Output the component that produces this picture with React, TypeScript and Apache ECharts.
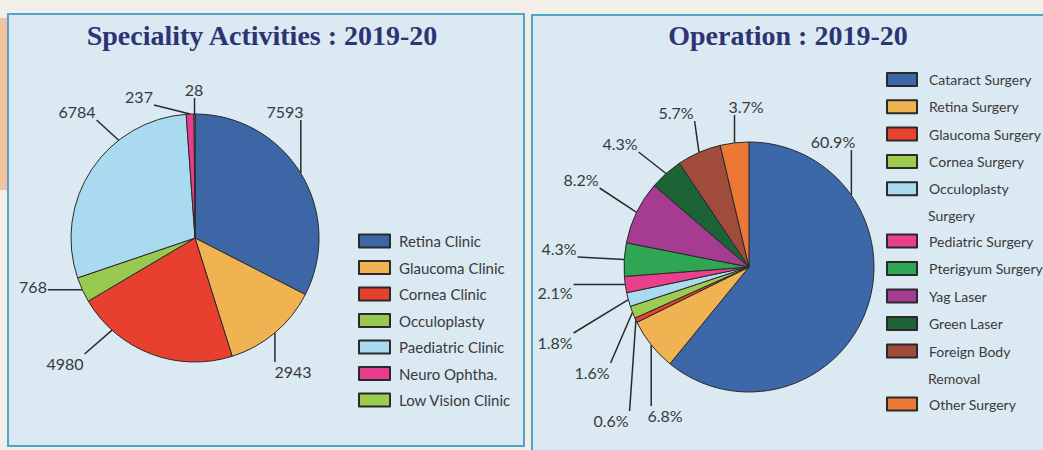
import React, { useEffect, useRef } from "react";
import * as echarts from "echarts";

// ---- data ----
const specialityNames = [
  "Retina Clinic",
  "Glaucoma Clinic",
  "Cornea Clinic",
  "Occuloplasty",
  "Paediatric Clinic",
  "Neuro Ophtha.",
  "Low Vision Clinic",
];
const specialityValues = [7593, 2943, 4980, 768, 6784, 237, 28];

const operationNames = [
  "Cataract Surgery",
  "Retina Surgery",
  "Glaucoma Surgery",
  "Cornea Surgery",
  "Occuloplasty Surgery",
  "Pediatric Surgery",
  "Pterigyum Surgery",
  "Yag Laser",
  "Green Laser",
  "Foreign Body Removal",
  "Other Surgery",
];
const operationPercents = [60.9, 6.8, 0.6, 1.6, 1.8, 2.1, 4.3, 8.2, 4.3, 5.7, 3.7];

const titleLeft = "Speciality Activities : 2019-20";
const titleRight = "Operation : 2019-20";

// ---- styles / layout ----
const specialityColors = ["#3d66a6", "#efb451", "#e7402f", "#98c850", "#aadaf0", "#e83c8c", "#9ccc50"];
const operationColors = [
  "#3c67a8", "#efb451", "#e8412f", "#9ccc50", "#aadaf0", "#ea3f8c",
  "#2ea654", "#a53c91", "#1c6437", "#a04b3c", "#ec7837",
];

const LEFT_CENTER = [195, 238];
const LEFT_RADIUS = 124;
const RIGHT_CENTER = [749, 267];
const RIGHT_RADIUS = 125;

// label placement (centre of each value label) and where its leader line leaves the pie:
// "mid" = the slice's middle angle (from the library's layout), a number = angle in degrees clockwise from 12 o'clock
const specialityLabelPos = [
  [285, 111], [293, 371], [65, 363], [33, 286], [77, 111], [139, 96], [194, 89],
];
const specialityLineStart: (string | number)[] = ["mid", "mid", 222, "mid", 322, "mid", "mid"];
const operationLabelPos = [
  [833, 141], [665, 415], [611, 420], [592, 372], [555, 342], [555, 292],
  [559, 248], [581, 179], [620, 143], [676, 112], [746, 106],
];
const operationLineStart: (string | number)[] = [55, "mid", "mid", "mid", "mid", "mid", "mid", "mid", "mid", "mid", "mid"];

const FONT = "Lato, 'Liberation Sans Narrow', 'Noto Sans', sans-serif";
const TITLE_FONT = "'Liberation Serif', 'DejaVu Serif', serif";
const TEXT_COLOR = "#3a3a3a";
const LINE_COLOR = "#2a2a2a";

const makeLabelLayout =
  (pos: number[][], starts: (string | number)[], center: number[], radius: number) => (params: any) => {
    const i = params.dataIndex;
    const [cx, cy] = pos[i];
    const w = params.labelRect.width;
    const h = params.labelRect.height;
    const out: any = { x: cx, y: cy, align: "center", verticalAlign: "middle" };
    let s: number[] | null = null;
    const mode = starts[i];
    if (typeof mode === "number") {
      const a = (mode * Math.PI) / 180;
      s = [center[0] + radius * Math.sin(a), center[1] - radius * Math.cos(a)];
    } else if (params.labelLinePoints) {
      s = params.labelLinePoints[0];
    }
    if (s) {
      const ex = Math.min(Math.max(s[0], cx - w / 2 - 1), cx + w / 2 + 1);
      const ey = Math.min(Math.max(s[1], cy - h / 2 - 1), cy + h / 2 + 1);
      out.labelLinePoints = [
        [s[0], s[1]],
        [ex, ey],
        [ex, ey],
      ];
    }
    return out;
  };

export default function App() {
  const ref = useRef<HTMLDivElement>(null);

  useEffect(() => {
    document.body.style.margin = "0";
    if (!ref.current) return;
    const chart = echarts.init(ref.current, undefined, { renderer: "svg" });

    const shortName = (n: string) =>
      n === "Occuloplasty Surgery" ? "Occuloplasty" : n === "Foreign Body Removal" ? "Foreign Body" : n;

    const legendBase = {
      orient: "vertical" as const,
      icon: "rect",
      padding: 0,
      selectedMode: false,
      itemHeight: 13,
    };
    const rightLegendText = {
      fontFamily: FONT,
      fontSize: 14,
      color: TEXT_COLOR,
      lineHeight: 13,
      padding: [0, 0, 0, 7],
    };

    chart.setOption({
      animation: false,
      backgroundColor: "#f2efe9",
      graphic: [
        { type: "rect", z: -10, shape: { x: 0, y: 18, width: 7, height: 172 }, style: { fill: "#f3c49c" } },
        {
          type: "rect",
          z: -9,
          shape: { x: 8, y: 14, width: 516, height: 432 },
          style: { fill: "#dbe9f3", stroke: "#4ea4c9", lineWidth: 2 },
        },
        {
          type: "rect",
          z: -9,
          shape: { x: 532, y: 15, width: 520, height: 440 },
          style: { fill: "#dbe9f3", stroke: "#4ea4c9", lineWidth: 2 },
        },
        {
          type: "text",
          x: 262,
          y: 35,
          style: {
            text: titleLeft,
            font: `bold 28px ${TITLE_FONT}`,
            fill: "#2d3474",
            textAlign: "center",
            textVerticalAlign: "middle",
          },
        },
        {
          type: "text",
          x: 788,
          y: 35,
          style: {
            text: titleRight,
            font: `bold 28px ${TITLE_FONT}`,
            fill: "#2d3474",
            textAlign: "center",
            textVerticalAlign: "middle",
          },
        },
        {
          type: "text",
          x: 928,
          y: 215,
          style: { text: "Surgery", font: `14px ${FONT}`, fill: TEXT_COLOR, textVerticalAlign: "middle" },
        },
        {
          type: "text",
          x: 928,
          y: 378,
          style: { text: "Removal", font: `14px ${FONT}`, fill: TEXT_COLOR, textVerticalAlign: "middle" },
        },
      ],
      legend: [
        {
          ...legendBase,
          left: 358,
          top: 233.5,
          itemWidth: 31,
          itemGap: 11.5,
          data: specialityNames,
          textStyle: { fontFamily: FONT, fontSize: 15, color: TEXT_COLOR, lineHeight: 13, padding: [0, 0, 0, 4] },
        },
        {
          ...legendBase,
          left: 886,
          top: 72,
          itemWidth: 30,
          itemGap: 12.3,
          data: operationNames.slice(0, 5),
          formatter: shortName,
          textStyle: rightLegendText,
        },
        {
          ...legendBase,
          left: 886,
          top: 233.5,
          itemWidth: 30,
          itemGap: 12.5,
          data: operationNames.slice(5, 10),
          formatter: shortName,
          textStyle: rightLegendText,
        },
        {
          ...legendBase,
          left: 886,
          top: 396.5,
          itemWidth: 30,
          itemGap: 12.5,
          data: operationNames.slice(10),
          formatter: shortName,
          textStyle: rightLegendText,
        },
      ],
      series: [
        {
          type: "pie",
          center: LEFT_CENTER,
          radius: LEFT_RADIUS,
          startAngle: 90,
          clockwise: true,
          itemStyle: { borderColor: LINE_COLOR, borderWidth: 1 },
          label: { show: true, formatter: "{c}", color: TEXT_COLOR, fontFamily: FONT, fontSize: 16 },
          labelLine: { show: true, length: 22, length2: 0, lineStyle: { color: LINE_COLOR, width: 1.5 } },
          labelLayout: makeLabelLayout(specialityLabelPos, specialityLineStart, LEFT_CENTER, LEFT_RADIUS),
          emphasis: { disabled: true },
          data: specialityNames.map((n, i) => ({
            name: n,
            value: specialityValues[i],
            itemStyle: { color: specialityColors[i] },
          })),
        },
        {
          type: "pie",
          center: RIGHT_CENTER,
          radius: RIGHT_RADIUS,
          startAngle: 90,
          clockwise: true,
          itemStyle: { borderColor: LINE_COLOR, borderWidth: 1 },
          label: { show: true, formatter: "{c}%", color: TEXT_COLOR, fontFamily: FONT, fontSize: 16 },
          labelLine: { show: true, length: 25, length2: 0, lineStyle: { color: LINE_COLOR, width: 1.5 } },
          labelLayout: makeLabelLayout(operationLabelPos, operationLineStart, RIGHT_CENTER, RIGHT_RADIUS),
          emphasis: { disabled: true },
          data: operationNames.map((n, i) => ({
            name: n,
            value: operationPercents[i],
            itemStyle: { color: operationColors[i] },
          })),
        },
      ],
    });

    return () => chart.dispose();
  }, []);

  return <div ref={ref} style={{ width: 1043, height: 450 }} />;
}
